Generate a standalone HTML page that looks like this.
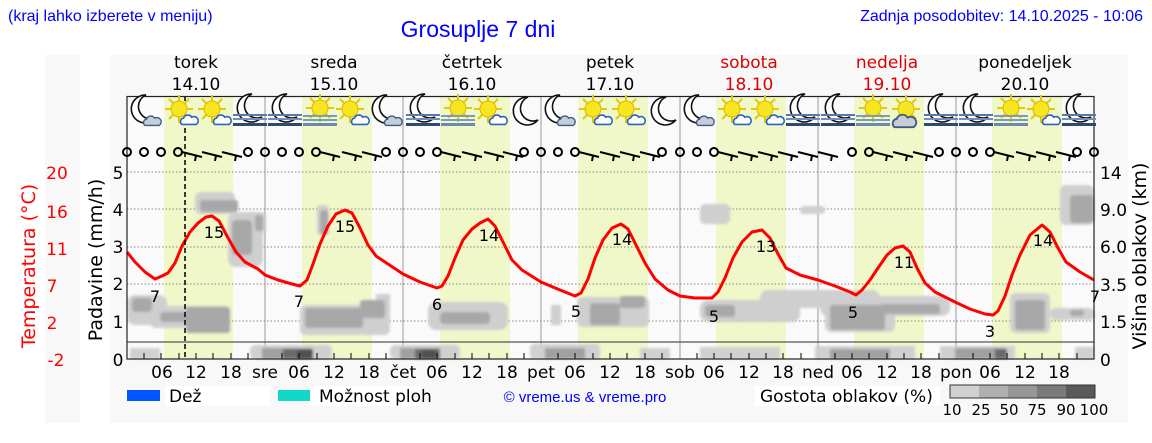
<!DOCTYPE html>
<html><head><meta charset="utf-8"><style>
body{margin:0;background:#fff;width:1152px;height:443px;overflow:hidden;font-family:"Liberation Sans","DejaVu Sans",sans-serif}
svg{display:block}
text{font-family:"DejaVu Sans","Liberation Sans",sans-serif}
</style></head><body>
<svg width="1152" height="443" viewBox="0 0 1152 443" xmlns="http://www.w3.org/2000/svg">
<defs>
<g id="moon"><path d="M2,-15 A14,14 0 1 0 12,8 A11,11 0 0 1 2,-15Z" fill="#fff" stroke="#111" stroke-width="1.6"/></g>
<g id="sun"><g stroke="#e8c800" stroke-width="2"><line x1="0" y1="-14" x2="0" y2="14"/><line x1="-14" y1="0" x2="14" y2="0"/><line x1="-10" y1="-10" x2="10" y2="10"/><line x1="-10" y1="10" x2="10" y2="-10"/></g><circle r="8" fill="#f6e620" stroke="#e0b800" stroke-width="1"/></g>
<g id="bcloud"><path d="M-8,6 a4,4 0 0 1 2,-7 a5,5 0 0 1 9,-1 a4,4 0 0 1 5,8Z" fill="#fff" stroke="#2a62c8" stroke-width="1.8"/></g>
<g id="gcloud"><path d="M-8,6 a4,4 0 0 1 2,-7 a5,5 0 0 1 9,-1 a4,4 0 0 1 5,8Z" fill="#c8ccd4" stroke="#3a5a8a" stroke-width="1.5"/></g>
<g id="fog"><rect x="-17" y="2" width="34" height="2" fill="#5a7aa0"/><rect x="-17" y="6" width="34" height="2" fill="#7090b8"/><rect x="-17" y="11" width="34" height="3" fill="#2e4a70"/></g>
<g id="sfog"><rect x="-17" y="3" width="34" height="2" fill="#7a9ac0"/><rect x="-17" y="7" width="34" height="2" fill="#7a9ac0"/><rect x="-17" y="11" width="34" height="3" fill="#6a8ab0"/></g>
<g id="M"><use href="#moon" transform="translate(-3,-2)"/><use href="#gcloud" transform="translate(5,8) scale(.9)"/></g>
<g id="S"><use href="#sun" transform="translate(-3,-3)"/><use href="#bcloud" transform="translate(7,7) scale(.9)"/></g>
<g id="F"><use href="#moon" transform="translate(0,-3)"/><use href="#fog"/></g>
<g id="G"><use href="#sun" transform="translate(0,-4)"/><use href="#sfog"/></g>
<g id="C"><use href="#moon"/></g>
<g id="SG"><use href="#sun" transform="translate(0,-3)"/><use href="#gcloud" transform="translate(-2,8) scale(1.2)"/></g>
<g id="wc"><circle r="4" fill="none" stroke="#000" stroke-width="2"/></g>
<g id="barb"><line x1="0" y1="0" x2="20" y2="5" stroke="#000" stroke-width="2"/><line x1="14" y1="3.5" x2="13" y2="9" stroke="#000" stroke-width="2"/></g>
<filter id="bl"><feGaussianBlur stdDeviation="1.2"/></filter>
</defs>
<rect x="45" y="55" width="35" height="368" fill="#f8f8f8"/>
<rect x="110" y="55" width="1018" height="368" fill="#f8f8f8"/>
<rect x="127" y="96" width="967" height="263" fill="#fafafa"/>
<g fill="#f0f7c8">
<rect x="164" y="97" width="69" height="262"/><rect x="302" y="97" width="70" height="262"/><rect x="440" y="97" width="70" height="262"/><rect x="578" y="97" width="70" height="262"/><rect x="716" y="97" width="70" height="262"/><rect x="854" y="97" width="70" height="262"/><rect x="992" y="97" width="70" height="262"/>
</g>
<g stroke="#999" stroke-width="1"><line x1="265" y1="96" x2="265" y2="359"/><line x1="403" y1="96" x2="403" y2="359"/><line x1="541" y1="96" x2="541" y2="359"/><line x1="680" y1="96" x2="680" y2="359"/><line x1="818" y1="96" x2="818" y2="359"/><line x1="956" y1="96" x2="956" y2="359"/></g>
<g stroke="#888" stroke-width="1" stroke-dasharray="1.5,2"><line x1="127" y1="172" x2="1094" y2="172"/><line x1="127" y1="209" x2="1094" y2="209"/><line x1="127" y1="247" x2="1094" y2="247"/><line x1="127" y1="284" x2="1094" y2="284"/><line x1="127" y1="321" x2="1094" y2="321"/></g>
<g filter="url(#bl)">
<g fill="#cfcfcf">
<rect x="127" y="295" width="40" height="30" rx="8"/><rect x="150" y="306" width="80" height="22" rx="6"/><rect x="300" y="305" width="90" height="30" rx="6"/><rect x="376" y="294" width="14" height="20"/><rect x="428" y="302" width="80" height="28" rx="8"/><rect x="551" y="305" width="10" height="20"/><rect x="577" y="297" width="72" height="30" rx="6"/><rect x="700" y="300" width="100" height="22" rx="8"/><rect x="760" y="290" width="120" height="18" rx="8"/><rect x="820" y="296" width="130" height="20" rx="8"/><rect x="825" y="300" width="70" height="32" rx="6"/><rect x="1010" y="293" width="40" height="40" rx="6"/><rect x="1050" y="308" width="45" height="12" rx="6"/><rect x="195" y="192" width="40" height="22" rx="6"/><rect x="228" y="212" width="35" height="55" rx="8"/><rect x="250" y="212" width="16" height="22" rx="5"/><rect x="317" y="205" width="12" height="30" rx="4"/><rect x="700" y="204" width="30" height="20" rx="5"/><rect x="800" y="206" width="25" height="8" rx="4"/><rect x="1060" y="185" width="34" height="40" rx="6"/></g>
<g fill="#a8a8a8">
<rect x="186" y="307" width="44" height="26" rx="3"/><rect x="160" y="312" width="30" height="10" rx="4"/><rect x="132" y="298" width="20" height="14" rx="4"/><rect x="305" y="308" width="58" height="20" rx="3"/><rect x="360" y="300" width="25" height="18" rx="3"/><rect x="440" y="312" width="50" height="12" rx="4"/><rect x="590" y="303" width="30" height="22" rx="3"/><rect x="620" y="296" width="25" height="12" rx="3"/><rect x="705" y="305" width="30" height="12" rx="3"/><rect x="830" y="305" width="55" height="25" rx="3"/><rect x="880" y="304" width="60" height="10" rx="3"/><rect x="1015" y="300" width="30" height="30" rx="3"/><rect x="1070" y="310" width="14" height="6" rx="3"/><rect x="200" y="200" width="38" height="12" rx="3"/><rect x="232" y="220" width="20" height="35" rx="4"/><rect x="255" y="215" width="8" height="16" rx="3"/><rect x="320" y="210" width="8" height="25" rx="3"/><rect x="1070" y="195" width="24" height="28" rx="4"/></g>
<g fill="#d0d0d0"><rect x="130" y="348" width="30" height="11"/><rect x="250" y="345" width="82" height="14" rx="5"/><rect x="390" y="345" width="70" height="14" rx="5"/><rect x="530" y="344" width="70" height="15" rx="4"/><rect x="640" y="348" width="30" height="11"/><rect x="700" y="347" width="80" height="12"/><rect x="815" y="346" width="100" height="13"/><rect x="940" y="346" width="75" height="13"/><rect x="1075" y="347" width="19" height="12"/></g>
<g fill="#a0a0a0"><rect x="262" y="348" width="50" height="11"/><rect x="400" y="348" width="40" height="11"/><rect x="545" y="348" width="40" height="11"/><rect x="830" y="349" width="60" height="10"/><rect x="955" y="348" width="50" height="11"/></g>
<g fill="#6a6a6a"><rect x="283" y="349" width="30" height="10"/><rect x="415" y="349" width="25" height="10"/><rect x="995" y="349" width="12" height="10"/></g>
<g fill="#505050"><rect x="297" y="350" width="15" height="9"/><rect x="422" y="350" width="14" height="9"/></g>
</g>
<line x1="127" y1="342" x2="1094" y2="342" stroke="#555" stroke-width="1.2"/>
<g stroke="#000" stroke-width="1">
<path d="M144,359v-6M161,359v-6M179,359v-6M196,359v-6M213,359v-6M231,359v-6M248,359v-6M282,359v-6M299,359v-6M317,359v-6M334,359v-6M351,359v-6M369,359v-6M386,359v-6M420,359v-6M437,359v-6M455,359v-6M472,359v-6M489,359v-6M507,359v-6M524,359v-6M558,359v-6M575,359v-6M593,359v-6M610,359v-6M627,359v-6M645,359v-6M662,359v-6M697,359v-6M714,359v-6M731,359v-6M749,359v-6M766,359v-6M783,359v-6M801,359v-6M835,359v-6M852,359v-6M869,359v-6M887,359v-6M904,359v-6M921,359v-6M939,359v-6M973,359v-6M990,359v-6M1007,359v-6M1025,359v-6M1042,359v-6M1059,359v-6M1077,359v-6"/>
</g>
<polyline fill="none" stroke="#ff0000" stroke-width="3" stroke-linejoin="round" points="127,252 135,262 145,272 155,279 162,276 168,273 175,263 182,246 190,232 198,223 206,217 212,216 219,221 227,236 236,252 245,262 258,269 265,275 278,280 292,284 300,286 307,280 313,264 320,244 328,226 336,214 345,210 352,213 360,228 368,245 376,256 388,264 403,274 420,282 437,288 442,286 448,276 455,258 463,240 472,229 480,223 488,219 495,226 503,242 512,260 522,270 541,282 560,290 575,296 581,293 588,279 595,258 603,240 612,228 621,224 628,229 636,245 645,263 655,279 668,290 680,296 695,298 712,298 718,292 725,278 733,258 742,242 752,232 762,230 770,238 778,254 786,268 800,275 818,280 835,286 850,292 856,295 862,290 870,280 878,268 887,255 895,248 903,246 910,252 917,268 925,283 935,292 955,302 970,309 985,314 993,315 998,311 1005,296 1012,275 1020,255 1030,235 1042,225 1050,232 1058,248 1066,262 1080,272 1094,280"/>
<line x1="185" y1="96" x2="185" y2="359" stroke="#000" stroke-width="1.5" stroke-dasharray="5,3"/>
<rect x="127" y="96.5" width="967" height="262.5" fill="none" stroke="#222" stroke-width="1.2"/>
<g transform="translate(0,112)">
<use href="#M" x="147"/><use href="#S" x="182"/><use href="#S" x="215"/><use href="#F" x="250"/>
<use href="#F" x="285"/><use href="#G" x="320"/><use href="#S" x="353"/><use href="#M" x="388"/>
<use href="#F" x="423"/><use href="#G" x="458"/><use href="#S" x="491"/><use href="#C" x="526"/>
<use href="#M" x="561"/><use href="#S" x="596"/><use href="#S" x="629"/><use href="#C" x="664"/>
<use href="#M" x="700"/><use href="#S" x="735"/><use href="#S" x="768"/><use href="#F" x="803"/>
<use href="#F" x="838"/><use href="#G" x="873"/><use href="#SG" x="906"/><use href="#F" x="941"/>
<use href="#F" x="976"/><use href="#G" x="1011"/><use href="#S" x="1044"/><use href="#F" x="1079"/>
</g>
<g transform="translate(0,152)">
<use href="#wc" x="127"/><use href="#wc" x="144"/><use href="#wc" x="161"/><use href="#wc" x="178"/>
<use href="#wc" x="248"/><use href="#wc" x="265"/><use href="#wc" x="282"/><use href="#wc" x="299"/><use href="#wc" x="316"/>
<use href="#wc" x="386"/><use href="#wc" x="403"/><use href="#wc" x="420"/><use href="#wc" x="437"/>
<use href="#wc" x="524"/><use href="#wc" x="541"/><use href="#wc" x="558"/><use href="#wc" x="575"/>
<use href="#wc" x="662"/><use href="#wc" x="680"/><use href="#wc" x="697"/><use href="#wc" x="714"/>
<use href="#wc" x="852"/><use href="#wc" x="869"/>
<use href="#wc" x="939"/><use href="#wc" x="956"/><use href="#wc" x="973"/><use href="#wc" x="990"/>
<use href="#wc" x="1077"/><use href="#wc" x="1094"/>
<use href="#barb" x="182"/><use href="#barb" x="202"/><use href="#barb" x="222"/>
<use href="#barb" x="320"/><use href="#barb" x="342"/><use href="#barb" x="362"/>
<use href="#barb" x="441"/><use href="#barb" x="462"/><use href="#barb" x="484"/><use href="#barb" x="503"/>
<use href="#barb" x="579"/><use href="#barb" x="600"/><use href="#barb" x="620"/><use href="#barb" x="640"/>
<use href="#barb" x="718"/><use href="#barb" x="738"/><use href="#barb" x="758"/><use href="#barb" x="778"/><use href="#barb" x="798"/><use href="#barb" x="818"/>
<use href="#barb" x="873"/><use href="#barb" x="893"/><use href="#barb" x="913"/>
<use href="#barb" x="994"/><use href="#barb" x="1016"/><use href="#barb" x="1036"/><use href="#barb" x="1056"/>
</g>
<g font-size="16" fill="#000" text-anchor="middle">
<text x="155" y="302">7</text><text x="214" y="238">15</text><text x="299" y="307">7</text><text x="345" y="232">15</text><text x="437" y="310">6</text><text x="489" y="241">14</text><text x="576" y="317">5</text><text x="622" y="245">14</text><text x="714" y="322">5</text><text x="766" y="252">13</text><text x="853" y="318">5</text><text x="904" y="268">11</text><text x="990" y="337">3</text><text x="1043" y="246">14</text><text x="1095" y="302">7</text>
</g>
<text x="8" y="21" font-size="16" fill="#0000ff" style="font-family:'Liberation Sans',sans-serif">(kraj lahko izberete v meniju)</text>
<text x="478" y="37" font-size="23" fill="#0000ff" text-anchor="middle" style="font-family:'Liberation Sans',sans-serif">Grosuplje 7 dni</text>
<text x="1143" y="21" font-size="16" fill="#0000ff" text-anchor="end" style="font-family:'Liberation Sans',sans-serif">Zadnja posodobitev: 14.10.2025 - 10:06</text>
<g font-size="17" text-anchor="middle" fill="#000">
<text x="196" y="68">torek</text><text x="196" y="90">14.10</text>
<text x="334" y="68">sreda</text><text x="334" y="90">15.10</text>
<text x="472" y="68">četrtek</text><text x="472" y="90">16.10</text>
<text x="610" y="68">petek</text><text x="610" y="90">17.10</text>
<text x="749" y="68" fill="#dd0000">sobota</text><text x="749" y="90" fill="#dd0000">18.10</text>
<text x="887" y="68" fill="#dd0000">nedelja</text><text x="887" y="90" fill="#dd0000">19.10</text>
<text x="1025" y="68">ponedeljek</text><text x="1025" y="90">20.10</text>
</g>
<g font-size="17" fill="#ff0000" text-anchor="middle">
<text x="57" y="179">20</text><text x="57" y="218">16</text><text x="57" y="255">11</text><text x="52" y="292">7</text><text x="52" y="329">2</text><text x="56" y="366">-2</text>
</g>
<text transform="translate(35,266) rotate(-90)" font-size="19" fill="#ff0000" text-anchor="middle">Temperatura (°C)</text>
<text transform="translate(102,260) rotate(-90)" font-size="19" fill="#000" text-anchor="middle">Padavine (mm/h)</text>
<g font-size="17" fill="#000" text-anchor="middle">
<text x="118" y="179">5</text><text x="118" y="216">4</text><text x="118" y="253">3</text><text x="118" y="290">2</text><text x="118" y="328">1</text><text x="118" y="366">0</text>
</g>
<g font-size="17" fill="#000">
<text x="1100" y="179">14</text><text x="1100" y="216">9.0</text><text x="1100" y="253">6.0</text><text x="1100" y="291">3.5</text><text x="1100" y="328">1.5</text><text x="1100" y="366">0</text>
</g>
<text transform="translate(1146,256) rotate(-90)" font-size="19" fill="#000" text-anchor="middle">Višina oblakov (km)</text>
<g font-size="17" fill="#000" text-anchor="middle">
<text x="162" y="378">06</text><text x="196" y="378">12</text><text x="231" y="378">18</text>
<text x="265" y="378">sre</text><text x="299" y="378">06</text><text x="334" y="378">12</text><text x="369" y="378">18</text>
<text x="403" y="378">čet</text><text x="437" y="378">06</text><text x="472" y="378">12</text><text x="507" y="378">18</text>
<text x="541" y="378">pet</text><text x="575" y="378">06</text><text x="610" y="378">12</text><text x="645" y="378">18</text>
<text x="680" y="378">sob</text><text x="714" y="378">06</text><text x="749" y="378">12</text><text x="783" y="378">18</text>
<text x="818" y="378">ned</text><text x="852" y="378">06</text><text x="887" y="378">12</text><text x="921" y="378">18</text>
<text x="956" y="378">pon</text><text x="990" y="378">06</text><text x="1025" y="378">12</text><text x="1059" y="378">18</text>
</g>
<rect x="127" y="390" width="33" height="11" fill="#0055ff"/>
<rect x="165" y="386" width="105" height="20" fill="#fff"/>
<text x="169" y="402" font-size="17" fill="#000">Dež</text>
<rect x="278" y="390" width="32" height="11" fill="#11d8c8"/>
<rect x="310" y="386" width="110" height="20" fill="#fff"/>
<text x="319" y="402" font-size="17" fill="#000">Možnost ploh</text>
<text x="585" y="402" font-size="15" fill="#0000ff" text-anchor="middle" style="font-family:'Liberation Sans',sans-serif">© vreme.us &amp; vreme.pro</text>
<rect x="755" y="386" width="185" height="20" fill="#fff"/>
<text x="760" y="402" font-size="17" fill="#000">Gostota oblakov (%)</text>
<rect x="950" y="385" width="29" height="13" fill="#d0d0d0"/><rect x="979" y="385" width="29" height="13" fill="#b0b0b0"/><rect x="1008" y="385" width="29" height="13" fill="#979797"/><rect x="1037" y="385" width="29" height="13" fill="#7a7a7a"/><rect x="1066" y="385" width="29" height="13" fill="#5a5a5a"/>
<rect x="950" y="385" width="145" height="13" fill="none" stroke="#333" stroke-width="1"/>
<g font-size="15" fill="#000" text-anchor="middle">
<text x="952" y="415">10</text><text x="981" y="415">25</text><text x="1009" y="415">50</text><text x="1037" y="415">75</text><text x="1066" y="415">90</text><text x="1094" y="415">100</text>
</g>
</svg>
</body></html>
